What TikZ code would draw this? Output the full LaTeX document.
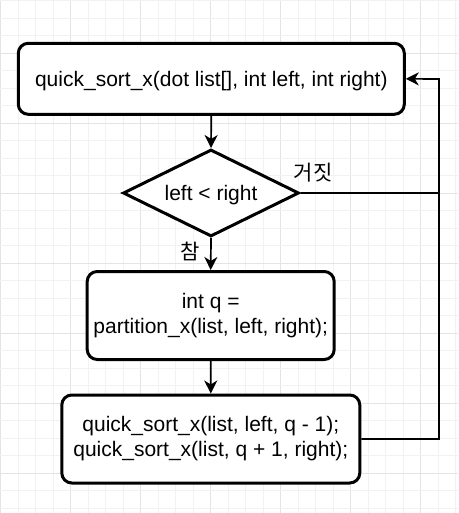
\documentclass[tikz,border=0pt]{standalone}
\usepackage{fontspec}
\setmainfont{Liberation Sans}
\newfontfamily\krfont{Noto Sans CJK KR}
\usetikzlibrary{shapes.geometric,arrows.meta}
\definecolor{gridminor}{HTML}{F2F2F2}
\definecolor{gridmajor}{HTML}{E4E4E4}
\tikzset{
  procbox/.style={draw=black, line width=3pt, rounded corners=10pt, fill=white,
    align=center, inner sep=0pt, font=\fontsize{21}{25}\selectfont},
  decbox/.style={draw=black, line width=3pt, diamond, shape aspect=2, fill=white, inner sep=0pt,
    font=\fontsize{21}{25}\selectfont},
  oneline/.style={text height=17.5pt, text depth=3pt},
  conn/.style={line width=1.7pt, draw=black},
  arr/.style={conn, -{Stealth[length=13pt,width=13pt,inset=4pt]}},
  lbl/.style={font=\krfont\fontsize{21}{24}\selectfont, inner sep=0pt}
}
\begin{document}
\begin{tikzpicture}[x=1pt,y=-1pt]
\useasboundingbox (0,0) rectangle (458,513);
\fill[white] (0,0) rectangle (458,513);
% grid
\foreach \k in {0,...,26} {
  \pgfmathsetmacro{\xx}{0.7+17.5*\k}
  \pgfmathtruncatemacro{\mm}{mod(\k,4)}
  \ifnum\mm=0
    \draw[gridmajor, line width=0.8pt] (\xx,0) -- (\xx,513);
  \else
    \draw[gridminor, line width=0.8pt] (\xx,0) -- (\xx,513);
  \fi
}
\foreach \k in {0,...,29} {
  \pgfmathsetmacro{\yy}{0.7+17.5*\k}
  \pgfmathtruncatemacro{\mm}{mod(\k,4)}
  \ifnum\mm=3
    \draw[gridmajor, line width=0.8pt] (0,\yy) -- (458,\yy);
  \else
    \draw[gridminor, line width=0.8pt] (0,\yy) -- (458,\yy);
  \fi
}
% nodes
\node[procbox, oneline, minimum width=386pt, minimum height=71pt] (b1) at (211.3,78.8)
  {quick\_sort\_x(dot list[], int left, int right)};
\node[decbox, oneline, minimum width=176pt, minimum height=87pt] (dia) at (211,193)
  {left < right};
\node[procbox, minimum width=247pt, minimum height=88pt] (b2) at (210.7,315.5)
  {int q =\\partition\_x(list, left, right);};
\node[procbox, minimum width=298pt, minimum height=88pt] (b3) at (210.8,439)
  {quick\_sort\_x(list, left, q - 1);\\quick\_sort\_x(list, q + 1, right);};
\node[lbl] (fl) at (313,173) {거짓};
\node[lbl] (tl) at (190,251) {참};
\coordinate (loopx) at (439,79);
% connectors
\draw[arr] (b1.south) -- (dia.north);
\draw[arr] (dia.south) -- (b2.north);
\draw[arr] (b2.south) -- (b3.north);
\draw[conn] (dia.east) -- (dia.east -| loopx);
\draw[arr] (b3.east) -| (loopx) -- (b1.east);
\end{tikzpicture}
\end{document}
